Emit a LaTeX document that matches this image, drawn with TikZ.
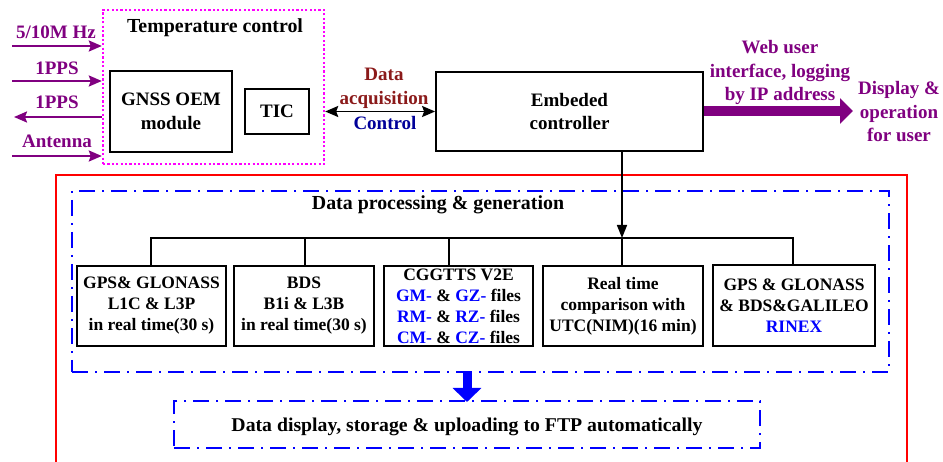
\documentclass[tikz,border=0pt]{standalone}
\usepackage{fontspec}
\setmainfont{Liberation Serif}
\usetikzlibrary{arrows.meta}
\definecolor{pur}{HTML}{800080}
\definecolor{mag}{HTML}{FF00FF}
\definecolor{dred}{HTML}{8B1A1A}
\definecolor{cblue}{HTML}{000099}
\definecolor{fblue}{HTML}{0000FF}
\newcommand\lblfont{\fontsize{19}{23.5}\selectfont\bfseries}
\newcommand\hdfont{\fontsize{19.9}{23.5}\selectfont\bfseries}
\newcommand\boxfont{\fontsize{17.5}{21}\selectfont\bfseries}
\begin{document}
\begin{tikzpicture}[x=1pt,y=-1pt,
  blk/.style={draw=black, line width=1.8pt, align=center, inner sep=0pt, font=\lblfont},
  sub/.style={draw=black, line width=1.8pt, align=center, inner sep=0pt, font=\boxfont, minimum height=80pt},
  lbl/.style={inner sep=0pt, font=\lblfont, align=center},
  parrow/.style={pur, line width=2.2pt, -{Stealth[length=13pt,width=11pt,inset=2pt]}},
  dashdot/.style={draw=fblue, line width=2pt, dash pattern=on 16pt off 7pt on 2pt off 7pt, inner sep=0pt},
  conn/.style={black, line width=1.6pt},
]
\path[use as bounding box] (0,0) rectangle (943,462);
\fill[white] (0,0) rectangle (943,462);

% red frame
\coordinate (r1) at (56,463); \coordinate (r2) at (56,175);
\coordinate (r3) at (907,175); \coordinate (r4) at (907,463);
\draw[red, line width=2pt] (r1) -- (r2) -- (r3) -- (r4);

% temperature control box
\node[draw=mag, line width=2.4pt, dash pattern=on 2.2pt off 2.2pt, minimum width=221pt, minimum height=154pt, inner sep=0pt] (tcbox) at (213.5,87) {};
\node[lbl, anchor=base, font=\hdfont] (tclbl) at (215,33) {Temperature control};
\node[blk, minimum width=122pt, minimum height=81pt] (gnss) at (171,111.5) {GNSS OEM\\module};
\node[blk, minimum width=64pt, minimum height=45pt] (tic) at (277,111.5) {TIC};
\node[blk, minimum width=267pt, minimum height=79pt] (ctrl) at (569.5,111.5) {Embeded\\controller};

% left signals
\node[lbl, anchor=base, text=pur] (l1) at (56,39) {5/10M Hz};
\node[lbl, anchor=base, text=pur] (l2) at (57,75) {1PPS};
\node[lbl, anchor=base, text=pur] (l3) at (57,109) {1PPS};
\node[lbl, anchor=base, text=pur] (l4) at (57,148) {Antenna};
\coordinate (i1) at (12,46); \coordinate (i2) at (12,81);
\coordinate (o3) at (14,117); \coordinate (i4) at (12,156);
\draw[parrow] (i1) -- (i1 -| tcbox.west);
\draw[parrow] (i2) -- (i2 -| tcbox.west);
\draw[parrow] (o3 -| tcbox.west) -- (o3);
\draw[parrow] (i4) -- (i4 -| tcbox.west);

% data acquisition
\draw[line width=1.9pt, {Stealth[length=13pt,width=11pt,inset=2pt]}-{Stealth[length=13pt,width=11pt,inset=2pt]}] (tcbox.east |- ctrl.center) -- (ctrl.west);
\node[lbl, text=dred] (daq) at (384,88.3) {Data\\acquisition};
\node[lbl, anchor=base, text=cblue] (ctl) at (385,130) {Control};

% user output
\coordinate (usr) at (853,111);
\draw[pur, line width=10pt, -{Triangle[length=13pt,width=25pt]}] (ctrl.east |- usr) -- (usr);
\node[lbl, text=pur] (web) at (780,72.7) {Web user\\interface, logging\\by IP address};
\node[lbl, text=pur] (disp) at (899,112) {Display \&\\operation\\for user};

% processing
\node[dashdot, minimum width=817pt, minimum height=181pt] (proc) at (480.5,281.5) {};
\node[lbl, anchor=base, font=\hdfont] (proclbl) at (438,210) {Data processing \& generation};

\node[sub, minimum width=149pt] (b1) at (151.5,306) {GPS\& GLONASS\\L1C \& L3P\\in real time(30 s)};
\node[sub, minimum width=140pt] (b2) at (304,306) {BDS\\B1i \& L3B\\in real time(30 s)};
\node[sub, minimum width=149pt] (b3) at (458.5,306) {CGGTTS V2E\\\textcolor{fblue}{GM-} \& \textcolor{fblue}{GZ-} files\\\textcolor{fblue}{RM-} \& \textcolor{fblue}{RZ-} files\\\textcolor{fblue}{CM-} \& \textcolor{fblue}{CZ-} files};
\node[sub, minimum width=160pt] (b4) at (623,306) {Real time\\comparison with\\UTC(NIM)(16 min)};
\node[sub, minimum width=162pt, minimum height=81pt] (b5) at (794,305.5) {GPS \& GLONASS\\\& BDS\&GALILEO\\\textcolor{fblue}{RINEX}};

\coordinate (bus1) at (151,238); \coordinate (bus2) at (305,238);
\coordinate (bus3) at (449,238); \coordinate (bus4) at (622,238);
\coordinate (bus5) at (793,238);
\draw[conn] (bus1 |- b1.north) -- (bus1) -- (bus5) -- (bus5 |- b5.north);
\draw[conn] (bus2) -- (bus2 |- b2.north);
\draw[conn] (bus3) -- (bus3 |- b3.north);
\draw[conn] (bus4) -- (bus4 |- b4.north);
\draw[conn, -{Triangle[length=13pt,width=10pt]}] (ctrl.south -| bus4) -- (bus4);

% display box
\coordinate (barr) at (467,402);
\draw[fblue, line width=9pt, -{Triangle[length=14pt,width=28pt]}] (proc.south -| barr) -- (barr);
\node[dashdot, minimum width=586pt, minimum height=47pt, text height=13.3pt, text depth=0pt, font=\fontsize{19.5}{23}\selectfont\bfseries] (dbox) at (467,424.5) {\resizebox{471pt}{\height}{Data display, storage \& uploading to FTP automatically}};
\end{tikzpicture}
\end{document}
